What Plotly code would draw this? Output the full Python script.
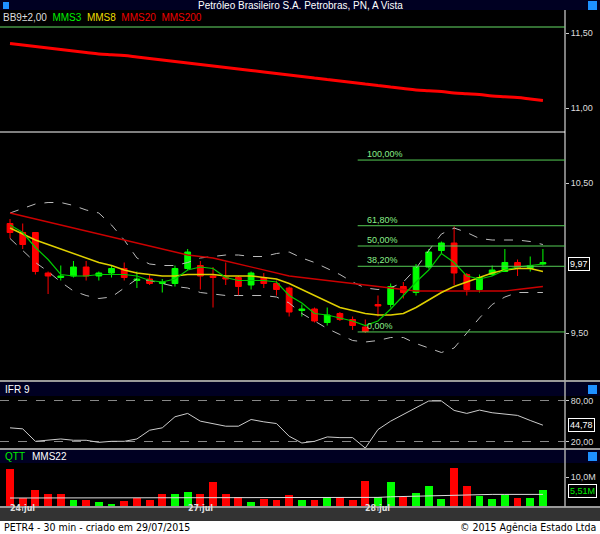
import plotly.graph_objects as go

idx = list(range(43))
opens  = [10.23,10.17,10.17,9.90,9.87,9.88,9.94,9.88,9.90,9.93,9.85,9.86,9.83,9.83,9.93,9.95,9.88,9.87,9.87,9.82,9.87,9.83,9.80,9.65,9.66,9.57,9.63,9.59,9.54,9.69,9.69,9.81,9.77,9.94,10.05,10.10,9.89,9.79,9.89,9.91,9.97,9.93,9.96]
highs  = [10.26,10.23,10.17,9.91,9.95,9.98,9.98,9.91,9.95,9.97,9.91,9.89,9.86,9.95,10.06,9.98,9.94,9.97,9.88,9.91,9.90,9.85,9.81,9.69,9.67,9.67,9.64,9.61,9.59,9.75,9.83,9.84,9.96,10.06,10.11,10.21,9.90,9.89,9.95,10.06,9.99,10.01,10.06]
lows   = [10.13,10.06,9.89,9.76,9.85,9.87,9.85,9.85,9.87,9.85,9.80,9.82,9.77,9.81,9.92,9.79,9.67,9.82,9.75,9.79,9.80,9.75,9.61,9.61,9.57,9.55,9.58,9.52,9.50,9.61,9.67,9.73,9.75,9.93,10.03,9.82,9.75,9.77,9.88,9.91,9.88,9.91,9.95]
closes = [10.17,10.09,9.91,9.88,9.88,9.94,9.88,9.90,9.93,9.87,9.86,9.83,9.84,9.93,10.04,9.88,9.87,9.86,9.81,9.90,9.83,9.79,9.64,9.66,9.58,9.62,9.59,9.55,9.51,9.68,9.81,9.77,9.94,10.04,10.10,9.90,9.79,9.87,9.92,9.97,9.93,9.95,9.97]

mms3 = [10.22,10.17,10.07,9.99,9.89,9.88,9.88,9.89,9.89,9.89,9.88,9.85,9.84,9.86,9.92,9.94,9.93,9.87,9.85,9.85,9.85,9.84,9.75,9.70,9.63,9.62,9.60,9.58,9.55,9.58,9.66,9.75,9.84,9.92,10.03,9.97,9.88,9.86,9.88,9.92,9.94,9.95,9.96]
mms8 = [10.20,10.16,10.12,10.09,10.06,10.03,10.00,9.97,9.95,9.92,9.90,9.89,9.88,9.88,9.89,9.89,9.89,9.88,9.88,9.88,9.87,9.86,9.83,9.79,9.75,9.71,9.67,9.65,9.63,9.62,9.62,9.63,9.67,9.72,9.77,9.81,9.84,9.87,9.90,9.92,9.93,9.93,9.91]
mms20 = [10.30,10.28,10.26,10.24,10.22,10.20,10.18,10.16,10.14,10.12,10.10,10.08,10.06,10.04,10.02,10.01,10.00,9.98,9.96,9.94,9.92,9.90,9.88,9.87,9.86,9.85,9.84,9.83,9.82,9.81,9.80,9.79,9.78,9.78,9.78,9.78,9.78,9.78,9.78,9.78,9.79,9.80,9.81]
mms200 = [11.43,11.42,11.41,11.40,11.39,11.38,11.37,11.36,11.355,11.35,11.34,11.33,11.32,11.31,11.30,11.29,11.28,11.27,11.26,11.25,11.24,11.23,11.22,11.21,11.20,11.19,11.18,11.17,11.16,11.15,11.14,11.13,11.12,11.115,11.11,11.10,11.095,11.09,11.08,11.075,11.07,11.06,11.05]
bb_up = [10.30,10.33,10.36,10.37,10.37,10.35,10.32,10.30,10.22,10.12,10.00,9.96,9.95,9.95,9.97,10.00,10.01,10.02,10.02,10.01,10.01,10.03,10.04,10.00,9.97,9.93,9.89,9.84,9.80,9.79,9.80,9.84,9.93,10.05,10.16,10.20,10.17,10.13,10.12,10.12,10.12,10.11,10.09]
bb_lo = [10.13,10.05,9.97,9.91,9.84,9.78,9.75,9.73,9.74,9.80,9.86,9.85,9.83,9.81,9.80,9.77,9.76,9.75,9.75,9.75,9.75,9.74,9.70,9.63,9.58,9.53,9.49,9.45,9.44,9.45,9.47,9.47,9.43,9.40,9.37,9.40,9.50,9.60,9.69,9.74,9.77,9.77,9.77]

rsi = [40.7,39.2,21.0,22.5,24.4,22.5,22.5,19.5,21.0,21.0,24.4,37.2,40.7,56.9,61.8,50.5,47.0,43.1,43.1,52.9,49.5,47.0,28.4,18.5,21.0,27.4,26.4,26.4,11.1,38.2,50.5,60.3,69.2,80.0,80.0,66.2,61.8,66.7,62.8,60.3,58.9,51.5,44.6]
vol = [12.6,3.0,5.7,4.5,4.2,2.2,2.5,1.8,1.1,1.9,2.9,2.5,4.2,4.2,5.1,4.2,8.2,4.3,3.4,1.6,2.8,2.3,4.0,2.2,2.3,3.3,3.3,2.5,8.8,3.5,8.2,3.4,4.7,7.0,2.8,13.1,7.0,3.6,2.8,3.9,3.0,3.1,5.7]
vol_up = [0,0,0,0,0,1,0,1,1,0,0,0,0,1,1,0,0,0,0,1,0,0,0,1,0,1,0,0,0,1,1,0,1,1,1,0,0,1,1,1,0,1,1]
mms22 = [3.0,3.0,3.0,3.0,3.1,3.1,3.1,3.1,3.1,3.0,3.0,3.0,3.0,3.0,3.0,3.1,3.1,3.1,3.1,3.1,3.1,3.0,3.0,3.0,3.0,3.0,3.0,3.0,3.1,3.2,3.4,3.5,3.6,3.8,3.9,4.1,4.2,4.2,4.2,4.2,4.2,4.2,4.2]

fib_low, fib_high = 9.507, 10.653
fib_pcts = [0.0, 38.2, 50.0, 61.8, 100.0]
fib_start = 27.4

date_labels = ["24 jul", "27 jul", "28 jul"]
date_idx = [1, 15, 29]

price_ticks = [9.5, 10.5, 11.0, 11.5]

XR = [-0.79, 43.74]
W = 565 / 600
def fy(px):
    return 1 - px / 534

fig = go.Figure()
dash_grey = dict(color="#bbbbbb", width=1, dash="dash")
fig.add_trace(go.Scatter(x=idx, y=bb_up, mode="lines", line=dash_grey, yaxis="y"))
fig.add_trace(go.Scatter(x=idx, y=bb_lo, mode="lines", line=dash_grey, yaxis="y"))
fig.add_trace(go.Scatter(x=idx, y=mms20, mode="lines", line=dict(color="#cc0000", width=1.3), yaxis="y"))
fig.add_trace(go.Scatter(x=idx, y=mms200, mode="lines", line=dict(color="#ff0000", width=3, shape="spline"), yaxis="y"))
fig.add_trace(go.Candlestick(x=idx, open=opens, high=highs, low=lows, close=closes,
    increasing=dict(line=dict(color="#00ff00", width=1), fillcolor="#00ff00"),
    decreasing=dict(line=dict(color="#ff0000", width=1), fillcolor="#ff0000"),
    whiskerwidth=0, yaxis="y"))
fig.add_trace(go.Scatter(x=idx, y=mms8, mode="lines", line=dict(color="#e0d000", width=1.5), yaxis="y"))
fig.add_trace(go.Scatter(x=idx, y=mms3, mode="lines", line=dict(color="#00cc00", width=1.2), yaxis="y"))

fig.add_trace(go.Scatter(x=idx, y=rsi, mode="lines", line=dict(color="#cccccc", width=1), yaxis="y2"))
fig.add_trace(go.Bar(x=idx, y=vol, marker=dict(color=["#00ff00" if u else "#ff0000" for u in vol_up], line=dict(width=0)),
                     width=0.62, yaxis="y3"))
fig.add_trace(go.Scatter(x=idx, y=mms22, mode="lines", line=dict(color="#dddddd", width=1), yaxis="y3"))

shapes = []
shapes.append(dict(type="rect", xref="paper", yref="paper", x0=0, x1=1, y0=fy(10), y1=1, fillcolor="#000022", line_width=0, layer="below"))
shapes.append(dict(type="rect", xref="paper", yref="paper", x0=0, x1=1, y0=fy(396), y1=fy(382), fillcolor="#000022", line_width=0, layer="below"))
shapes.append(dict(type="rect", xref="paper", yref="paper", x0=0, x1=1, y0=fy(463), y1=fy(450), fillcolor="#000022", line_width=0, layer="below"))
shapes.append(dict(type="rect", xref="paper", yref="paper", x0=0, x1=1, y0=fy(521), y1=fy(508), fillcolor="#333333", line_width=0, layer="below"))
shapes.append(dict(type="rect", xref="paper", yref="paper", x0=0, x1=1, y0=0, y1=fy(521), fillcolor="#ffffff", line_width=0, layer="below"))
for py in [381, 449, 507]:
    shapes.append(dict(type="line", xref="paper", yref="paper", x0=0, x1=1, y0=fy(py), y1=fy(py), line=dict(color="#999999", width=2)))
shapes.append(dict(type="line", xref="paper", yref="paper", x0=W, x1=W, y0=fy(507), y1=fy(10), line=dict(color="#aaaaaa", width=1.5)))
shapes.append(dict(type="line", xref="paper", yref="y", x0=0, x1=W, y0=11.54, y1=11.54, line=dict(color="#66dd66", width=1)))
shapes.append(dict(type="line", xref="paper", yref="y", x0=0, x1=W, y0=10.84, y1=10.84, line=dict(color="#ffffff", width=1)))
annotations = []
for p in fib_pcts:
    lv = fib_low + (fib_high - fib_low) * p / 100
    shapes.append(dict(type="line", xref="x", yref="y", x0=fib_start, x1=XR[1], y0=lv, y1=lv, line=dict(color="#55cc55", width=1)))
    annotations.append(dict(x=fib_start + 0.6, y=lv, xref="x", yref="y", text=f"{p:.2f}%".replace(".", ","),
                            showarrow=False, xanchor="left", yanchor="bottom", yshift=-1,
                            font=dict(color="#88ee88", size=9, family="Liberation Sans")))
for py in [5, 389, 456]:
    shapes.append(dict(type="rect", xref="paper", yref="paper", x0=588/600, x1=597/600, y0=fy(py+5), y1=fy(py-4), fillcolor="#1e90ff", line_width=0))
shapes.append(dict(type="rect", xref="paper", yref="paper", x0=3/600, x1=9/600, y0=fy(9), y1=fy(2), fillcolor="#1e90ff", line_width=0))
for di, dl in zip(date_idx, date_labels):
    shapes.append(dict(type="line", xref="x", yref="paper", x0=di, x1=di, y0=fy(511), y1=fy(507), line=dict(color="#cccccc", width=1)))
    annotations.append(dict(x=di, y=fy(515), xref="x", yref="paper", text="<b>" + dl + "</b>", showarrow=False,
                            font=dict(color="#dddddd", size=8, family="DejaVu Sans")))

def txt(x, y, t, color, size=10, anchor="left", bg=None, border=None, family="Liberation Sans"):
    d = dict(x=x / 600, y=fy(y), xref="paper", yref="paper", text=t, showarrow=False, xanchor=anchor,
             yanchor="middle", font=dict(color=color, size=size, family=family))
    if bg:
        d.update(bgcolor=bg, bordercolor=border, borderwidth=1, borderpad=1)
    annotations.append(d)

txt(300, 5, "Petróleo Brasileiro S.A. Petrobras, PN, A Vista", "#ffffff", 10, "center")
leg = [("BB9±2,00", "#dddddd"), ("MMS3", "#00ee00"), ("MMS8", "#eedd00"), ("MMS20", "#ee0000"), ("MMS200", "#ee0000")]
leg_html = "&nbsp;&nbsp;".join(f"<span style='color:{c}'>{t}</span>" for t, c in leg)
txt(1, 18, leg_html, "#dddddd", 10)
txt(3, 389, "IFR 9", "#ffffff", 10)
txt(3, 456, "QTT", "#00ee00", 10)
txt(30, 456, "MMS22", "#ffffff", 10)
txt(2, 527, "PETR4 - 30 min - criado em 29/07/2015", "#000000", 10.5, family="DejaVu Sans Condensed")
txt(598, 527, "© 2015 Agência Estado Ltda", "#000000", 10.5, "right", family="DejaVu Sans Condensed")
txt(568, 264, "9,97", "#ffffff", 9, bg="#000000", border="#ffffff")
txt(568, 425, "44,78", "#ffffff", 9, bg="#000000", border="#ffffff")
txt(568, 491, "5,51M", "#00ee00", 9, bg="#000000", border="#ffffff")

ax_common = dict(side="right", anchor="x", ticks="outside", ticklen=3, tickcolor="#cccccc",
                 tickfont=dict(color="#dddddd", size=9, family="Liberation Sans"), zeroline=False, showline=False, fixedrange=True)
fig.update_layout(
    width=600, height=534, margin=dict(l=0, r=0, t=0, b=0),
    paper_bgcolor="#000000", plot_bgcolor="#000000", showlegend=False, separators=",.",
    shapes=shapes, annotations=annotations, bargap=0, boxgap=0.35,
    xaxis=dict(domain=[0, W], range=XR, showgrid=False, showticklabels=False, zeroline=False,
               rangeslider=dict(visible=False), fixedrange=True),
    yaxis=dict(domain=[fy(381), fy(12)], range=[9.18, 11.64], tickvals=price_ticks, tickformat=".2f", showgrid=False, **ax_common),
    yaxis2=dict(domain=[fy(448), fy(396)], range=[11.2, 87.3], tickvals=[20, 80], tickformat=".2f",
                showgrid=True, gridcolor="#888888", griddash="dash", gridwidth=1, **ax_common),
    yaxis3=dict(domain=[fy(507), fy(463)], range=[0, 14.67], tickvals=[10], ticktext=["10,0M"], showgrid=False, **ax_common),
)
fig.write_html("out.html", config={"displayModeBar": False},
               post_script="document.body.style.margin='0';document.body.style.overflow='hidden';")
